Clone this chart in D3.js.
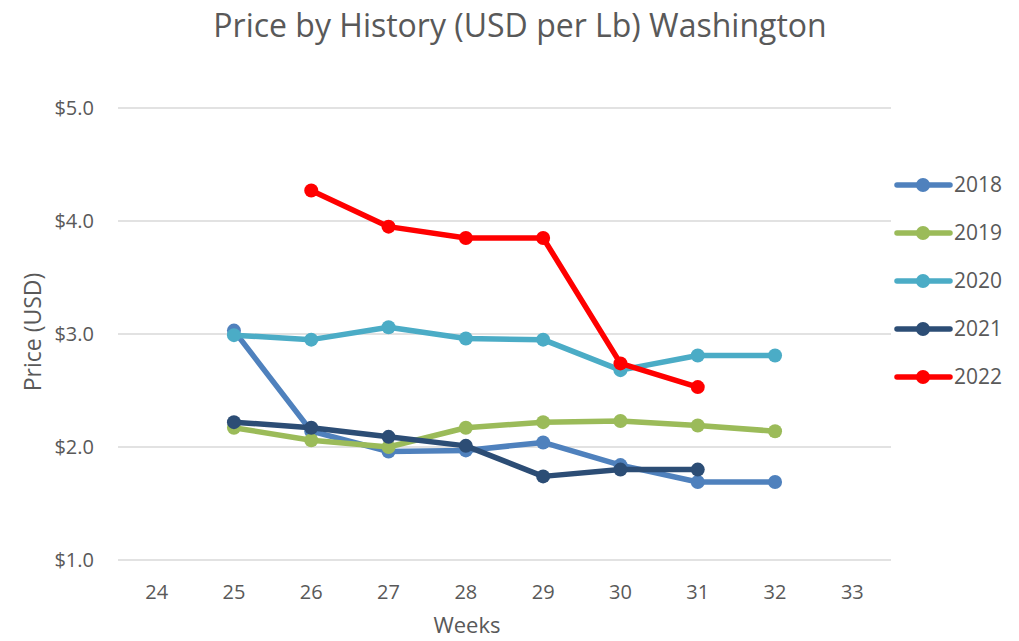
<!DOCTYPE html>
<meta charset="utf-8">
<style>
body { margin: 0; background: #fff; }
text { font-family: "Open Sans", sans-serif; fill: #595959; }
.grid line { stroke: #d9d9d9; stroke-width: 1.5; }
.series path { fill: none; stroke-width: 5.5; stroke-linejoin: round; }
</style>
<svg width="1019" height="641"></svg>
<script src="https://cdn.jsdelivr.net/npm/d3@7"></script>
<script>

var weeks = [24, 25, 26, 27, 28, 29, 30, 31, 32, 33];
var years = ["2018", "2019", "2020", "2021", "2022"];
var colors = ["#4f81bd", "#9bbb59", "#4bacc6", "#2c4d75", "#ff0000"];
var yTicks = [1, 2, 3, 4, 5];

// one value per week, null where there is no point
var price2018 = [null, 3.03, 2.14, 1.96, 1.97, 2.04, 1.84, 1.69, 1.69, null];
var price2019 = [null, 2.17, 2.06, 2.00, 2.17, 2.22, 2.23, 2.19, 2.14, null];
var price2020 = [null, 2.99, 2.95, 3.06, 2.96, 2.95, 2.68, 2.81, 2.81, null];
var price2021 = [null, 2.22, 2.17, 2.09, 2.01, 1.74, 1.80, 1.80, null, null];
var price2022 = [null, null, 4.27, 3.95, 3.85, 3.85, 2.74, 2.53, null, null];

var prices = [price2018, price2019, price2020, price2021, price2022];

var svg = d3.select("svg");

var x = d3.scalePoint()
    .domain(weeks)
    .range([118, 891])
    .padding(0.5);

var y = d3.scaleLinear()
    .domain([1, 5])
    .range([560, 108]);

// grid
svg.append("g")
    .attr("class", "grid")
  .selectAll("line")
  .data(yTicks)
  .enter().append("line")
    .attr("x1", 118)
    .attr("x2", 891)
    .attr("y1", function(d) { return y(d); })
    .attr("y2", function(d) { return y(d); });

// y tick labels
svg.append("g")
  .selectAll("text")
  .data(yTicks)
  .enter().append("text")
    .attr("x", 94)
    .attr("y", function(d) { return y(d); })
    .attr("dy", "0.35em")
    .attr("text-anchor", "end")
    .style("font-size", "20px")
    .text(function(d) { return "$" + d.toFixed(1); });

// x tick labels
svg.append("g")
  .selectAll("text")
  .data(weeks)
  .enter().append("text")
    .attr("x", function(d) { return x(d); })
    .attr("y", 599)
    .attr("text-anchor", "middle")
    .style("font-size", "20px")
    .text(function(d) { return d; });

// title and axis titles
svg.append("text")
    .attr("x", 520)
    .attr("y", 37)
    .attr("text-anchor", "middle")
    .style("font-size", "32px")
    .text("Price by History (USD per Lb) Washington");

svg.append("text")
    .attr("x", 467)
    .attr("y", 633)
    .attr("text-anchor", "middle")
    .style("font-size", "22px")
    .text("Weeks");

svg.append("text")
    .attr("transform", "translate(41,332) rotate(-90)")
    .attr("text-anchor", "middle")
    .style("font-size", "23px")
    .text("Price (USD)");

// lines
var line = d3.line()
    .defined(function(d) { return d.v != null; })
    .x(function(d) { return x(d.w); })
    .y(function(d) { return y(d.v); });

var series = svg.selectAll(".series")
  .data(years.map(function(yr, i) {
      return { year: yr, color: colors[i],
               pts: weeks.map(function(w, j) { return { w: w, v: prices[i][j] }; }) };
    }))
  .enter().append("g")
    .attr("class", "series");

series.append("path")
    .attr("stroke", function(d) { return d.color; })
    .attr("d", function(d) { return line(d.pts); });

series.selectAll("circle")
  .data(function(d) { return d.pts.filter(function(p) { return p.v != null; })
                                   .map(function(p) { p.color = d.color; return p; }); })
  .enter().append("circle")
    .attr("cx", function(p) { return x(p.w); })
    .attr("cy", function(p) { return y(p.v); })
    .attr("r", 7)
    .attr("fill", function(p) { return p.color; });

// legend
var legend = svg.append("g")
  .selectAll("g")
  .data(years)
  .enter().append("g")
    .attr("transform", function(d, i) { return "translate(895," + (185 + i * 48) + ")"; });

legend.append("line")
    .attr("x1", 2).attr("x2", 55)
    .attr("stroke", function(d, i) { return colors[i]; })
    .attr("stroke-width", 5.5)
    .attr("stroke-linecap", "round");

legend.append("circle")
    .attr("cx", 28)
    .attr("r", 7)
    .attr("fill", function(d, i) { return colors[i]; });

legend.append("text")
    .attr("x", 59)
    .attr("dy", "0.35em")
    .style("font-size", "21px")
    .text(function(d) { return d; });

</script>
